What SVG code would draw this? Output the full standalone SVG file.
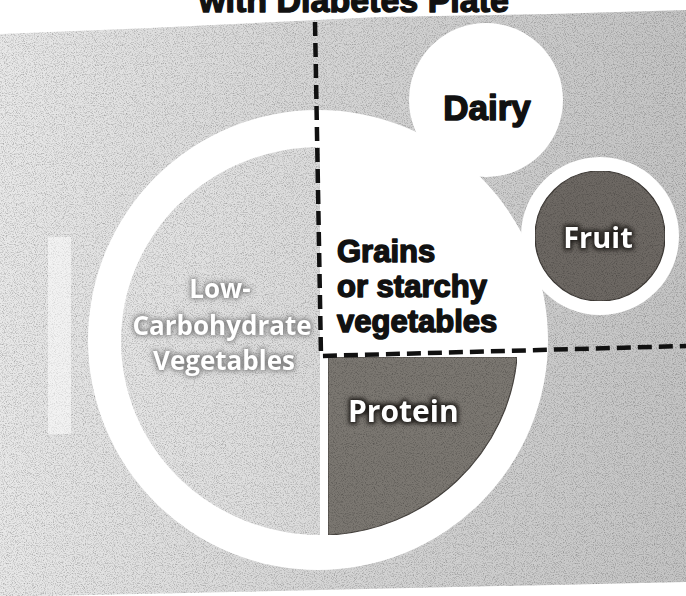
<svg xmlns="http://www.w3.org/2000/svg" xmlns:xlink="http://www.w3.org/1999/xlink" width="686" height="596" viewBox="0 0 686 596">
  <defs>
    <style>
      .title { font-family: "Liberation Sans", Arial, sans-serif; font-weight: 900; font-size: 34px; fill: #111; stroke: #111; stroke-width: 1.4; stroke-linejoin: round; }
      .dark { font-family: "Liberation Sans", Arial, sans-serif; font-weight: 900; fill: #111; stroke: #111; stroke-width: 1.5; stroke-linejoin: round; }
      .light { font-family: "Open Sans", "Liberation Sans", sans-serif; font-weight: 700; fill: #ffffff; }
      .divider { fill: none; stroke: #111; stroke-width: 4.5; stroke-dasharray: 14 7; }
      .white { fill: #ffffff; }
    </style>
    <linearGradient id="bgGrad" gradientUnits="userSpaceOnUse" x1="0" y1="0" x2="686" y2="0">
      <stop offset="0" stop-color="#e8e8e8"/>
      <stop offset="0.45" stop-color="#d6d6d6"/>
      <stop offset="1" stop-color="#c4c4c4"/>
    </linearGradient>
    <linearGradient id="vegGrad" gradientUnits="userSpaceOnUse" x1="120" y1="0" x2="320" y2="0">
      <stop offset="0" stop-color="#e4e4e4"/>
      <stop offset="1" stop-color="#dbdbdb"/>
    </linearGradient>
    <filter id="grain" x="0" y="0" width="100%" height="100%" color-interpolation-filters="sRGB">
      <feTurbulence type="fractalNoise" baseFrequency="0.9" numOctaves="2" seed="7" result="t"/>
      <feColorMatrix in="t" type="matrix" values="0 0 0 0 0  0 0 0 0 0  0 0 0 0 0  2.2 0 0 0 -1.0" result="n"/>
      <feComposite in="n" in2="SourceAlpha" operator="in" result="m"/>
      <feComponentTransfer in="m" result="m2"><feFuncA type="linear" slope="0.3"/></feComponentTransfer>
      <feMerge><feMergeNode in="SourceGraphic"/><feMergeNode in="m2"/></feMerge>
    </filter>
    <filter id="haloDark" x="-20%" y="-60%" width="140%" height="220%" color-interpolation-filters="sRGB">
      <feMorphology in="SourceAlpha" operator="dilate" radius="1.5" result="d"/>
      <feGaussianBlur in="d" stdDeviation="2.2" result="b"/>
      <feFlood flood-color="#1e1b18"/>
      <feComposite in2="b" operator="in" result="s"/>
      <feMerge><feMergeNode in="s"/><feMergeNode in="SourceGraphic"/></feMerge>
    </filter>
    <filter id="haloGray" x="-20%" y="-60%" width="140%" height="220%" color-interpolation-filters="sRGB">
      <feMorphology in="SourceAlpha" operator="dilate" radius="1.2" result="d"/>
      <feGaussianBlur in="d" stdDeviation="2.5" result="b"/>
      <feFlood flood-color="#7a7a7a"/>
      <feComposite in2="b" operator="in" result="s"/>
      <feMerge><feMergeNode in="s"/><feMergeNode in="SourceGraphic"/></feMerge>
    </filter>
  </defs>

  <rect x="0" y="0" width="686" height="596" fill="#ffffff"/>
  <text class="title" x="354" y="12" text-anchor="middle">with Diabetes Plate</text>

  <g id="background">
    <path d="M0,34 L150,28 L380,17 L550,14 L686,10 L686,582 L0,597 Z" fill="url(#bgGrad)" filter="url(#grain)"/>
    <rect x="48" y="237" width="23" height="197" fill="#ffffff" opacity="0.5"/>
  </g>

  <g id="plate">
    <circle class="white" cx="318" cy="340" r="230"/>
  </g>

  <g id="dairy">
    <circle class="white" cx="486" cy="100" r="77"/>
    <text class="dark" x="487" y="120" font-size="35" text-anchor="middle">Dairy</text>
  </g>

  <g id="fruit">
    <circle class="white" cx="600" cy="236" r="79"/>
    <circle cx="600" cy="236" r="65" fill="#6d6863" stroke="#3f3b37" stroke-width="1.2" filter="url(#grain)"/>
    <text class="light" x="598" y="248" font-size="29" text-anchor="middle" filter="url(#haloDark)">Fruit</text>
  </g>

  <g id="vegetables">
    <path d="M320,147 A199,194 0 1 0 320,535 Z" fill="url(#vegGrad)" filter="url(#grain)"/>
    <g class="light" font-size="26" text-anchor="middle" filter="url(#haloGray)">
      <text x="220" y="298">Low-</text>
      <text x="222" y="335">Carbohydrate</text>
      <text x="224" y="370">Vegetables</text>
    </g>
  </g>

  <g id="protein">
    <path d="M328,357 L517,357 A199,194 0 0 1 328,535 Z" fill="#7b7771" stroke="#4a4642" stroke-width="1.2" filter="url(#grain)"/>
    <text class="light" x="348" y="422" font-size="30" filter="url(#haloDark)">Protein</text>
  </g>

  <g id="grains">
    <g class="dark" font-size="31">
      <text x="337" y="262">Grains</text>
      <text x="337" y="297">or starchy</text>
      <text x="337" y="332">vegetables</text>
    </g>
  </g>

  <g id="connectors">
    <polyline class="divider" points="315,22 321,356 686,346"/>
  </g>
</svg>
